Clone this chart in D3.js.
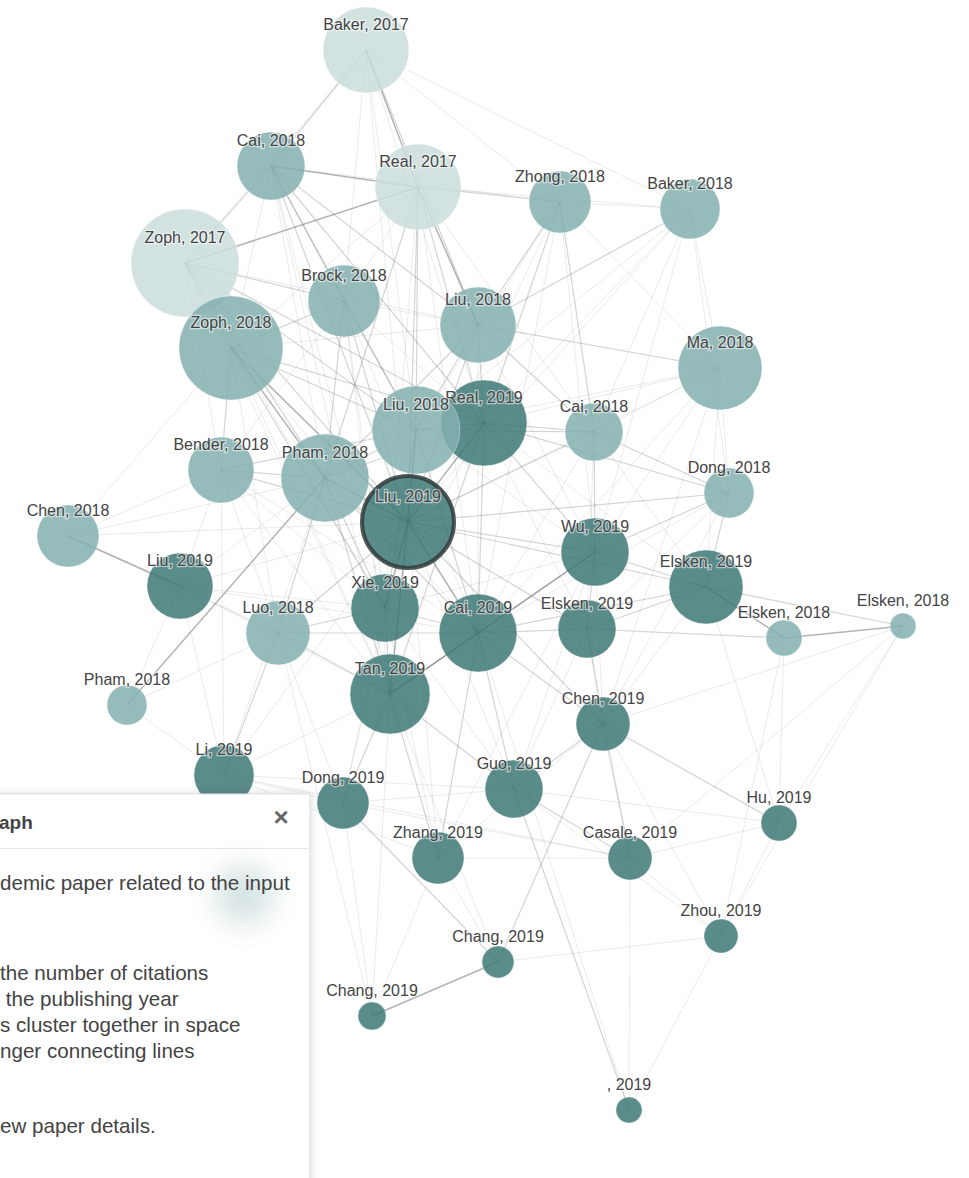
<!DOCTYPE html>
<html>
<head>
<meta charset="utf-8">
<script src="https://cdn.jsdelivr.net/npm/d3@7/dist/d3.min.js"></script>
<style>
  html, body { margin: 0; padding: 0; background: #fff; }
  svg { display: block; }
</style>
</head>
<body>
<svg id="chart" width="969" height="1178"></svg>
<script>
// ---------------- DATA ----------------
const ids = ["baker17","cai18a","real17","zhong18","baker18","zoph17","brock18","liu18a","zoph18","ma18",
  "real19","liu18b","cai18b","bender18","pham18a","dong18","liu19a","chen18","wu19","elsken19a",
  "liu19b","xie19","luo18","cai19","elsken19b","elsken18a","elsken18b","pham18b","tan19","chen19",
  "li19","dong19","guo19","hu19","zhang19","casale19","zhou19","chang19a","chang19b","x19"];
const authors = ["Baker","Cai","Real","Zhong","Baker","Zoph","Brock","Liu","Zoph","Ma",
  "Real","Liu","Cai","Bender","Pham","Dong","Liu","Chen","Wu","Elsken",
  "Liu","Xie","Luo","Cai","Elsken","Elsken","Elsken","Pham","Tan","Chen",
  "Li","Dong","Guo","Hu","Zhang","Casale","Zhou","Chang","Chang",""];
const years = [2017,2018,2017,2018,2018,2017,2018,2018,2018,2018,
  2019,2018,2018,2018,2018,2018,2019,2018,2019,2019,
  2019,2019,2018,2019,2019,2018,2018,2018,2019,2019,
  2019,2019,2019,2019,2019,2019,2019,2019,2019,2019];
const citations = [1585,991,1585,824,772,2500,1111,1238,2320,1512,
  1585,1660,721,934,1660,536,1814,824,991,1174,
  934,991,878,1304,721,278,145,343,1372,625,
  772,580,721,278,580,415,248,219,168,145];
// layout (embedding) coordinates of the force layout
const layoutX = [36.6,27.1,41.8,56.0,69.0,18.5,34.4,47.8,23.1,72.0,
  48.4,41.6,59.4,22.1,32.5,72.9,40.8,6.8,59.5,70.6,
  18.0,38.5,27.8,47.8,58.7,78.4,90.3,12.7,39.0,60.3,
  22.4,34.3,51.4,77.9,43.8,63.0,72.1,49.8,37.2,62.9];
const layoutY = [5.0,16.6,18.7,20.2,20.9,26.3,30.1,32.5,34.8,36.8,
  42.3,43.0,43.2,47.0,47.8,49.3,52.2,53.6,55.2,58.7,
  58.6,60.8,63.3,63.3,62.9,63.8,62.6,70.5,69.4,72.4,
  77.5,80.3,78.9,82.3,85.8,85.8,93.6,96.2,101.6,111.0];
const originId = "liu19a";
// similarity links [source, target, strength 1..3]
const links = [
 ["baker17","cai18a",2],["baker17","real17",3],["baker17","brock18",1],["baker17","liu18a",2],["baker17","zhong18",1],["baker17","baker18",1],["baker17","liu18b",1],["baker17","real19",1],["baker17","zoph17",1],
 ["cai18a","real17",3],["cai18a","zoph17",2],["cai18a","brock18",2],["cai18a","liu18a",2],["cai18a","liu18b",2],["cai18a","real19",2],["cai18a","liu19a",2],["cai18a","zoph18",1],["cai18a","pham18a",1],["cai18a","xie19",1],["cai18a","zhong18",1],
 ["real17","zoph17",3],["real17","zhong18",2],["real17","liu18a",3],["real17","liu18b",2],["real17","real19",2],["real17","brock18",1],["real17","pham18a",2],["real17","liu19a",2],["real17","zoph18",1],["real17","cai18b",1],["real17","baker18",1],
 ["zhong18","liu18a",2],["zhong18","cai18b",2],["zhong18","liu18b",1],["zhong18","real19",2],["zhong18","baker18",1],["zhong18","liu19a",1],["zhong18","ma18",1],
 ["baker18","liu18a",2],["baker18","real19",1],["baker18","liu18b",1],["baker18","liu19a",1],["baker18","ma18",1],["baker18","cai18b",1],
 ["zoph17","zoph18",2],["zoph17","brock18",2],["zoph17","liu18b",2],["zoph17","pham18a",2],["zoph17","liu19a",2],["zoph17","real19",2],["zoph17","liu18a",1],["zoph17","bender18",1],
 ["brock18","zoph18",2],["brock18","liu18b",2],["brock18","pham18a",2],["brock18","liu19a",2],["brock18","real19",1],["brock18","xie19",1],["brock18","liu18a",1],["brock18","bender18",1],
 ["liu18a","liu18b",2],["liu18a","real19",2],["liu18a","liu19a",2],["liu18a","cai18b",2],["liu18a","pham18a",2],["liu18a","ma18",2],["liu18a","wu19",1],["liu18a","cai19",1],["liu18a","zoph18",1],
 ["zoph18","liu18b",2],["zoph18","pham18a",3],["zoph18","liu19a",3],["zoph18","real19",2],["zoph18","bender18",2],["zoph18","xie19",2],["zoph18","cai19",1],["zoph18","tan19",1],["zoph18","luo18",1],
 ["ma18","real19",1],["ma18","cai18b",1],["ma18","liu19a",1],["ma18","liu18b",1],["ma18","dong18",1],["ma18","wu19",1],["ma18","cai19",1],
 ["liu18b","real19",2],["liu18b","liu19a",3],["liu18b","pham18a",2],["liu18b","cai18b",2],["liu18b","cai19",2],["liu18b","xie19",2],["liu18b","bender18",2],["liu18b","wu19",1],["liu18b","tan19",1],
 ["real19","liu19a",3],["real19","cai18b",2],["real19","cai19",2],["real19","wu19",2],["real19","dong18",2],["real19","pham18a",2],["real19","tan19",2],["real19","xie19",1],["real19","elsken19b",1],["real19","elsken19a",1],
 ["cai18b","dong18",2],["cai18b","wu19",2],["cai18b","liu19a",2],["cai18b","elsken19a",1],["cai18b","elsken19b",1],["cai18b","cai19",1],
 ["bender18","pham18a",2],["bender18","liu19a",2],["bender18","luo18",1],["bender18","liu19b",1],["bender18","xie19",1],["bender18","cai19",1],
 ["pham18a","liu19a",3],["pham18a","xie19",2],["pham18a","luo18",2],["pham18a","pham18b",3],["pham18a","cai19",2],["pham18a","tan19",2],["pham18a","liu19b",1],["pham18a","li19",1],
 ["dong18","liu19a",2],["dong18","wu19",2],["dong18","elsken19a",2],["dong18","cai19",1],["dong18","elsken19b",1],
 ["liu19a","wu19",2],["liu19a","elsken19a",2],["liu19a","xie19",3],["liu19a","cai19",3],["liu19a","tan19",3],["liu19a","elsken19b",2],["liu19a","luo18",2],["liu19a","liu19b",1],["liu19a","chen19",2],["liu19a","guo19",1],["liu19a","dong19",1],["liu19a","li19",1],["liu19a","zhang19",1],
 ["chen18","liu19b",3],["chen18","bender18",1],["chen18","luo18",1],
 ["wu19","tan19",3],["wu19","cai19",2],["wu19","elsken19b",2],["wu19","elsken19a",2],["wu19","chen19",1],["wu19","xie19",1],
 ["elsken19a","elsken19b",2],["elsken19a","elsken18a",3],["elsken19a","elsken18b",2],["elsken19a","cai19",2],["elsken19a","chen19",1],["elsken19a","hu19",1],
 ["elsken19b","elsken18a",2],["elsken18a","elsken18b",3],["elsken19b","cai19",2],["elsken19b","chen19",2],["elsken19b","guo19",1],["elsken19b","casale19",1],
 ["chen19","hu19",2],["chen19","chang19a",2],["chen19","casale19",2],["chen19","cai19",2],["chen19","guo19",2],["chen19","zhou19",1],["chen19","zhang19",1],
 ["dong19","chang19a",2],["guo19","x19",2],["chang19a","chang19b",3],
 ["cai19","guo19",2],["cai19","zhang19",2],["cai19","tan19",3],["cai19","xie19",2],["tan19","dong19",2],["tan19","zhang19",2],["tan19","xie19",2],["tan19","guo19",2],["luo18","li19",2],["liu19b","luo18",1],["li19","dong19",1],["luo18","tan19",2],["luo18","xie19",2],["luo18","dong19",1],
 ["hu19","zhou19",1],["zhou19","x19",1],["casale19","zhou19",1],["hu19","elsken18a",1],["elsken18b","hu19",1],["chang19b","dong19",1],["chang19b","luo18",1],["zhang19","casale19",1],["li19","casale19",1],["dong19","guo19",1],["guo19","casale19",2],["hu19","casale19",1],["casale19","x19",1],["zhang19","chang19a",1],["elsken18b","zhou19",1],["elsken18a","zhou19",1],
 ["xie19","dong19",1],["xie19","zhang19",1],["li19","pham18b",1],["pham18b","luo18",1],["liu19b","li19",1],["liu19b","xie19",1],["li19","tan19",1],["chang19b","zhang19",1],["chang19a","zhou19",1],
 ["chen18","pham18a",1],["chen18","liu19a",1],["chen18","zoph18",1],["pham18b","liu19b",1],["ma18","elsken19a",1],["ma18","chen19",1],["dong18","chen19",1],["elsken18b","casale19",1],["elsken18b","chen19",1],["hu19","guo19",1],["zhou19","guo19",1],["li19","zhang19",1],["li19","guo19",1],["dong19","casale19",1],["chang19b","tan19",1],["chang19a","tan19",1],["x19","cai19",1],["xie19","guo19",1],["wu19","guo19",1],["wu19","zhang19",1],["bender18","tan19",1],["bender18","li19",1],["luo18","cai19",2],["liu19b","tan19",1],["liu19b","cai19",1],["zoph17","xie19",1],["zoph17","tan19",1],["brock18","cai19",1],["brock18","tan19",1],["real17","cai19",1],["real17","xie19",1],["baker17","liu19a",1],["cai18a","tan19",1],["zhong18","wu19",1],["zhong18","cai19",1],["baker18","wu19",1],["baker18","dong18",1]
];
const panelTitle = "aph";
const panelLines = ["demic paper related to the input", "the number of citations", " the publishing year",
  "s cluster together in space", "nger connecting lines", "ew paper details."];

// ---------------- SCALES ----------------
const W = 969, H = 1178;
const x = d3.scaleLinear().domain([0, 96.9]).range([0, W]);
const y = d3.scaleLinear().domain([0, 117.8]).range([0, H]);
const r = d3.scaleSqrt().domain([0, 2500]).range([0, 54]);
const color = d3.scaleLinear().domain([2017, 2018, 2019])
  .range(["#cadddc", "#84afaf", "#3d7876"]);
const linkOpacity = d3.scaleOrdinal().domain([1,2,3]).range([0.14, 0.3, 0.52]);
const linkWidth = d3.scaleOrdinal().domain([1,2,3]).range([1, 1.2, 1.5]);

const nodes = ids.map((id, i) => ({
  id, i, label: authors[i] + ", " + years[i], year: years[i], cit: citations[i],
  px: x(layoutX[i]), py: y(layoutY[i])
}));
const byId = new Map(nodes.map(n => [n.id, n]));

const svg = d3.select("#chart");
const defs = svg.append("defs");
const shadow = defs.append("filter").attr("id", "shadow").attr("x", "-20%").attr("y", "-20%").attr("width", "140%").attr("height", "140%");
shadow.append("feDropShadow").attr("dx", 0).attr("dy", 0).attr("stdDeviation", 4).attr("flood-color", "#000").attr("flood-opacity", 0.15);
const blur = defs.append("filter").attr("id", "blur").attr("x", "-100%").attr("y", "-100%").attr("width", "300%").attr("height", "300%");
blur.append("feGaussianBlur").attr("stdDeviation", 14);

// links
svg.append("g").selectAll("line").data(links).join("line")
  .attr("x1", d => byId.get(d[0]).px).attr("y1", d => byId.get(d[0]).py)
  .attr("x2", d => byId.get(d[1]).px).attr("y2", d => byId.get(d[1]).py)
  .attr("stroke", "#6f6f6f")
  .attr("stroke-opacity", d => linkOpacity(d[2]))
  .attr("stroke-width", d => linkWidth(d[2]));

// nodes
const drawOrder = nodes.filter(n => n.id !== originId).concat(nodes.filter(n => n.id === originId));
svg.append("g").selectAll("circle").data(drawOrder).join("circle")
  .attr("cx", d => d.px).attr("cy", d => d.py).attr("r", d => r(d.cit))
  .attr("fill", d => color(d.year)).attr("fill-opacity", 0.85)
  .attr("stroke", d => d.id === originId ? "#2f3a3a" : "#ffffff")
  .attr("stroke-opacity", d => d.id === originId ? 0.85 : 0.35)
  .attr("stroke-width", d => d.id === originId ? 4 : 1);

// labels
svg.append("g").selectAll("text").data(nodes).join("text")
  .attr("x", d => d.px).attr("y", d => d.py - 26).attr("dy", "0.35em")
  .attr("text-anchor", "middle")
  .attr("font-family", "'Liberation Sans', Arial, sans-serif")
  .attr("font-size", 16)
  .attr("fill", "#444")
  .attr("stroke", "#fff").attr("stroke-width", 2.5).attr("stroke-opacity", 0.55)
  .attr("paint-order", "stroke")
  .text(d => d.label);

// info panel (partly off-screen)
const panel = svg.append("g");
panel.append("rect").attr("x", -30).attr("y", 794).attr("width", 340).attr("height", 420)
  .attr("fill", "#fff").attr("stroke", "#dcdcdc").attr("stroke-width", 1).attr("filter", "url(#shadow)");
panel.append("circle").attr("cx", 244).attr("cy", 895).attr("r", 30)
  .attr("fill", "#6e9e9c").attr("opacity", 0.28).attr("filter", "url(#blur)");
panel.append("line").attr("x1", 0).attr("x2", 310).attr("y1", 848.5).attr("y2", 848.5)
  .attr("stroke", "#e6e6e6").attr("stroke-width", 1);
panel.append("text").attr("x", -1).attr("y", 829)
  .attr("font-family", "'Liberation Sans', Arial, sans-serif").attr("font-size", 19).attr("font-weight", "bold")
  .attr("fill", "#444").text(panelTitle);
panel.append("text").attr("x", 281).attr("y", 817).attr("dy", "0.35em").attr("text-anchor", "middle")
  .attr("font-family", "'Liberation Sans', Arial, sans-serif").attr("font-size", 26).attr("font-weight", "bold")
  .attr("fill", "#666").text("×");
const lineY = [890, 980, 1006, 1032, 1058, 1133];
panel.selectAll("text.body").data(panelLines).join("text").attr("class", "body")
  .attr("x", 0).attr("y", (d, i) => lineY[i])
  .attr("xml:space", "preserve").style("white-space", "pre")
  .attr("font-family", "'Liberation Sans', Arial, sans-serif").attr("font-size", 20.6)
  .attr("fill", "#444").text(d => d);
</script>
</body>
</html>
